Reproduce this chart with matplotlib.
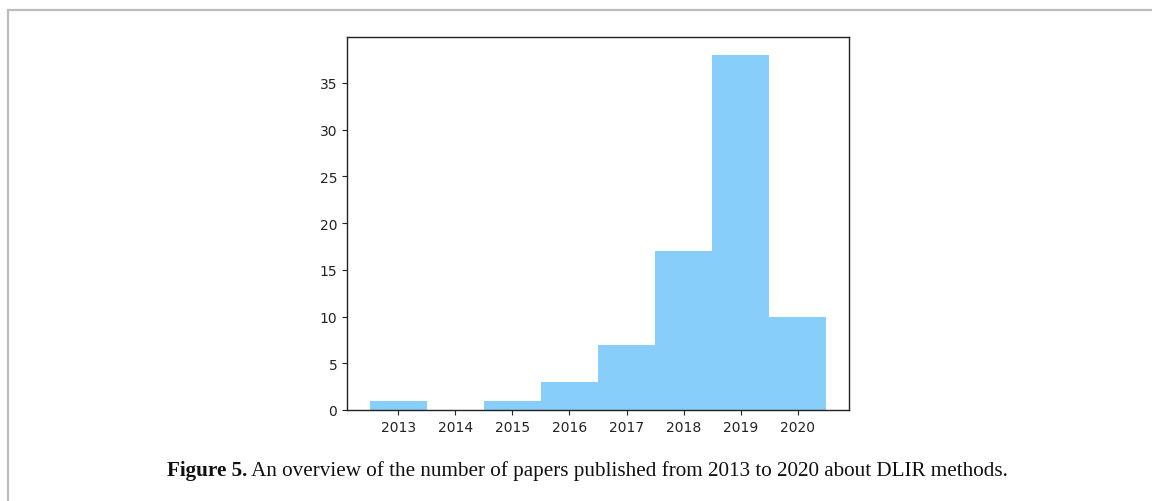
import matplotlib
matplotlib.use("Agg")
import matplotlib.pyplot as plt
from matplotlib.patches import Rectangle

years = [2013, 2014, 2015, 2016, 2017, 2018, 2019, 2020]
papers = [1, 0, 1, 3, 7, 17, 38, 10]
caption_bold = "Figure 5."
caption_text = " An overview of the number of papers published from 2013 to 2020 about DLIR methods."

W, H = 1152, 502
fig = plt.figure(figsize=(W / 100, H / 100), dpi=100)
fig.patch.set_facecolor("white")

# light frame around the figure panel
fig.patches.append(Rectangle((8 / W, -0.2), 1.2, 1.2 - 11 / H,
                             transform=fig.transFigure, fill=False,
                             edgecolor="#bdbdbd", linewidth=1.6, zorder=0))

ax = fig.add_axes([347 / W, (H - 411) / H, (849 - 347) / W, (411 - 38) / H])
ax.bar(years, papers, width=1.0, color="#87CEFA")
ax.set_xticks(years)
ax.set_xticklabels([str(y) for y in years])
ax.tick_params(labelsize=10, colors="#222222")
for s in ax.spines.values():
    s.set_color("#222222")
    s.set_linewidth(1.0)

# caption: bold label followed by regular text
fs = 15.2
txt = fig.text(167 / W, 1 - 471 / H, caption_bold, fontsize=fs, color="#111111",
               family="Liberation Serif", weight="bold", va="center", ha="left")
fig.canvas.draw()
bb = txt.get_window_extent()
fig.text(bb.x1 / W, 1 - 471 / H, caption_text, fontsize=fs, color="#111111",
         family="Liberation Serif", va="center", ha="left")

fig.savefig("out.png", dpi=100)
